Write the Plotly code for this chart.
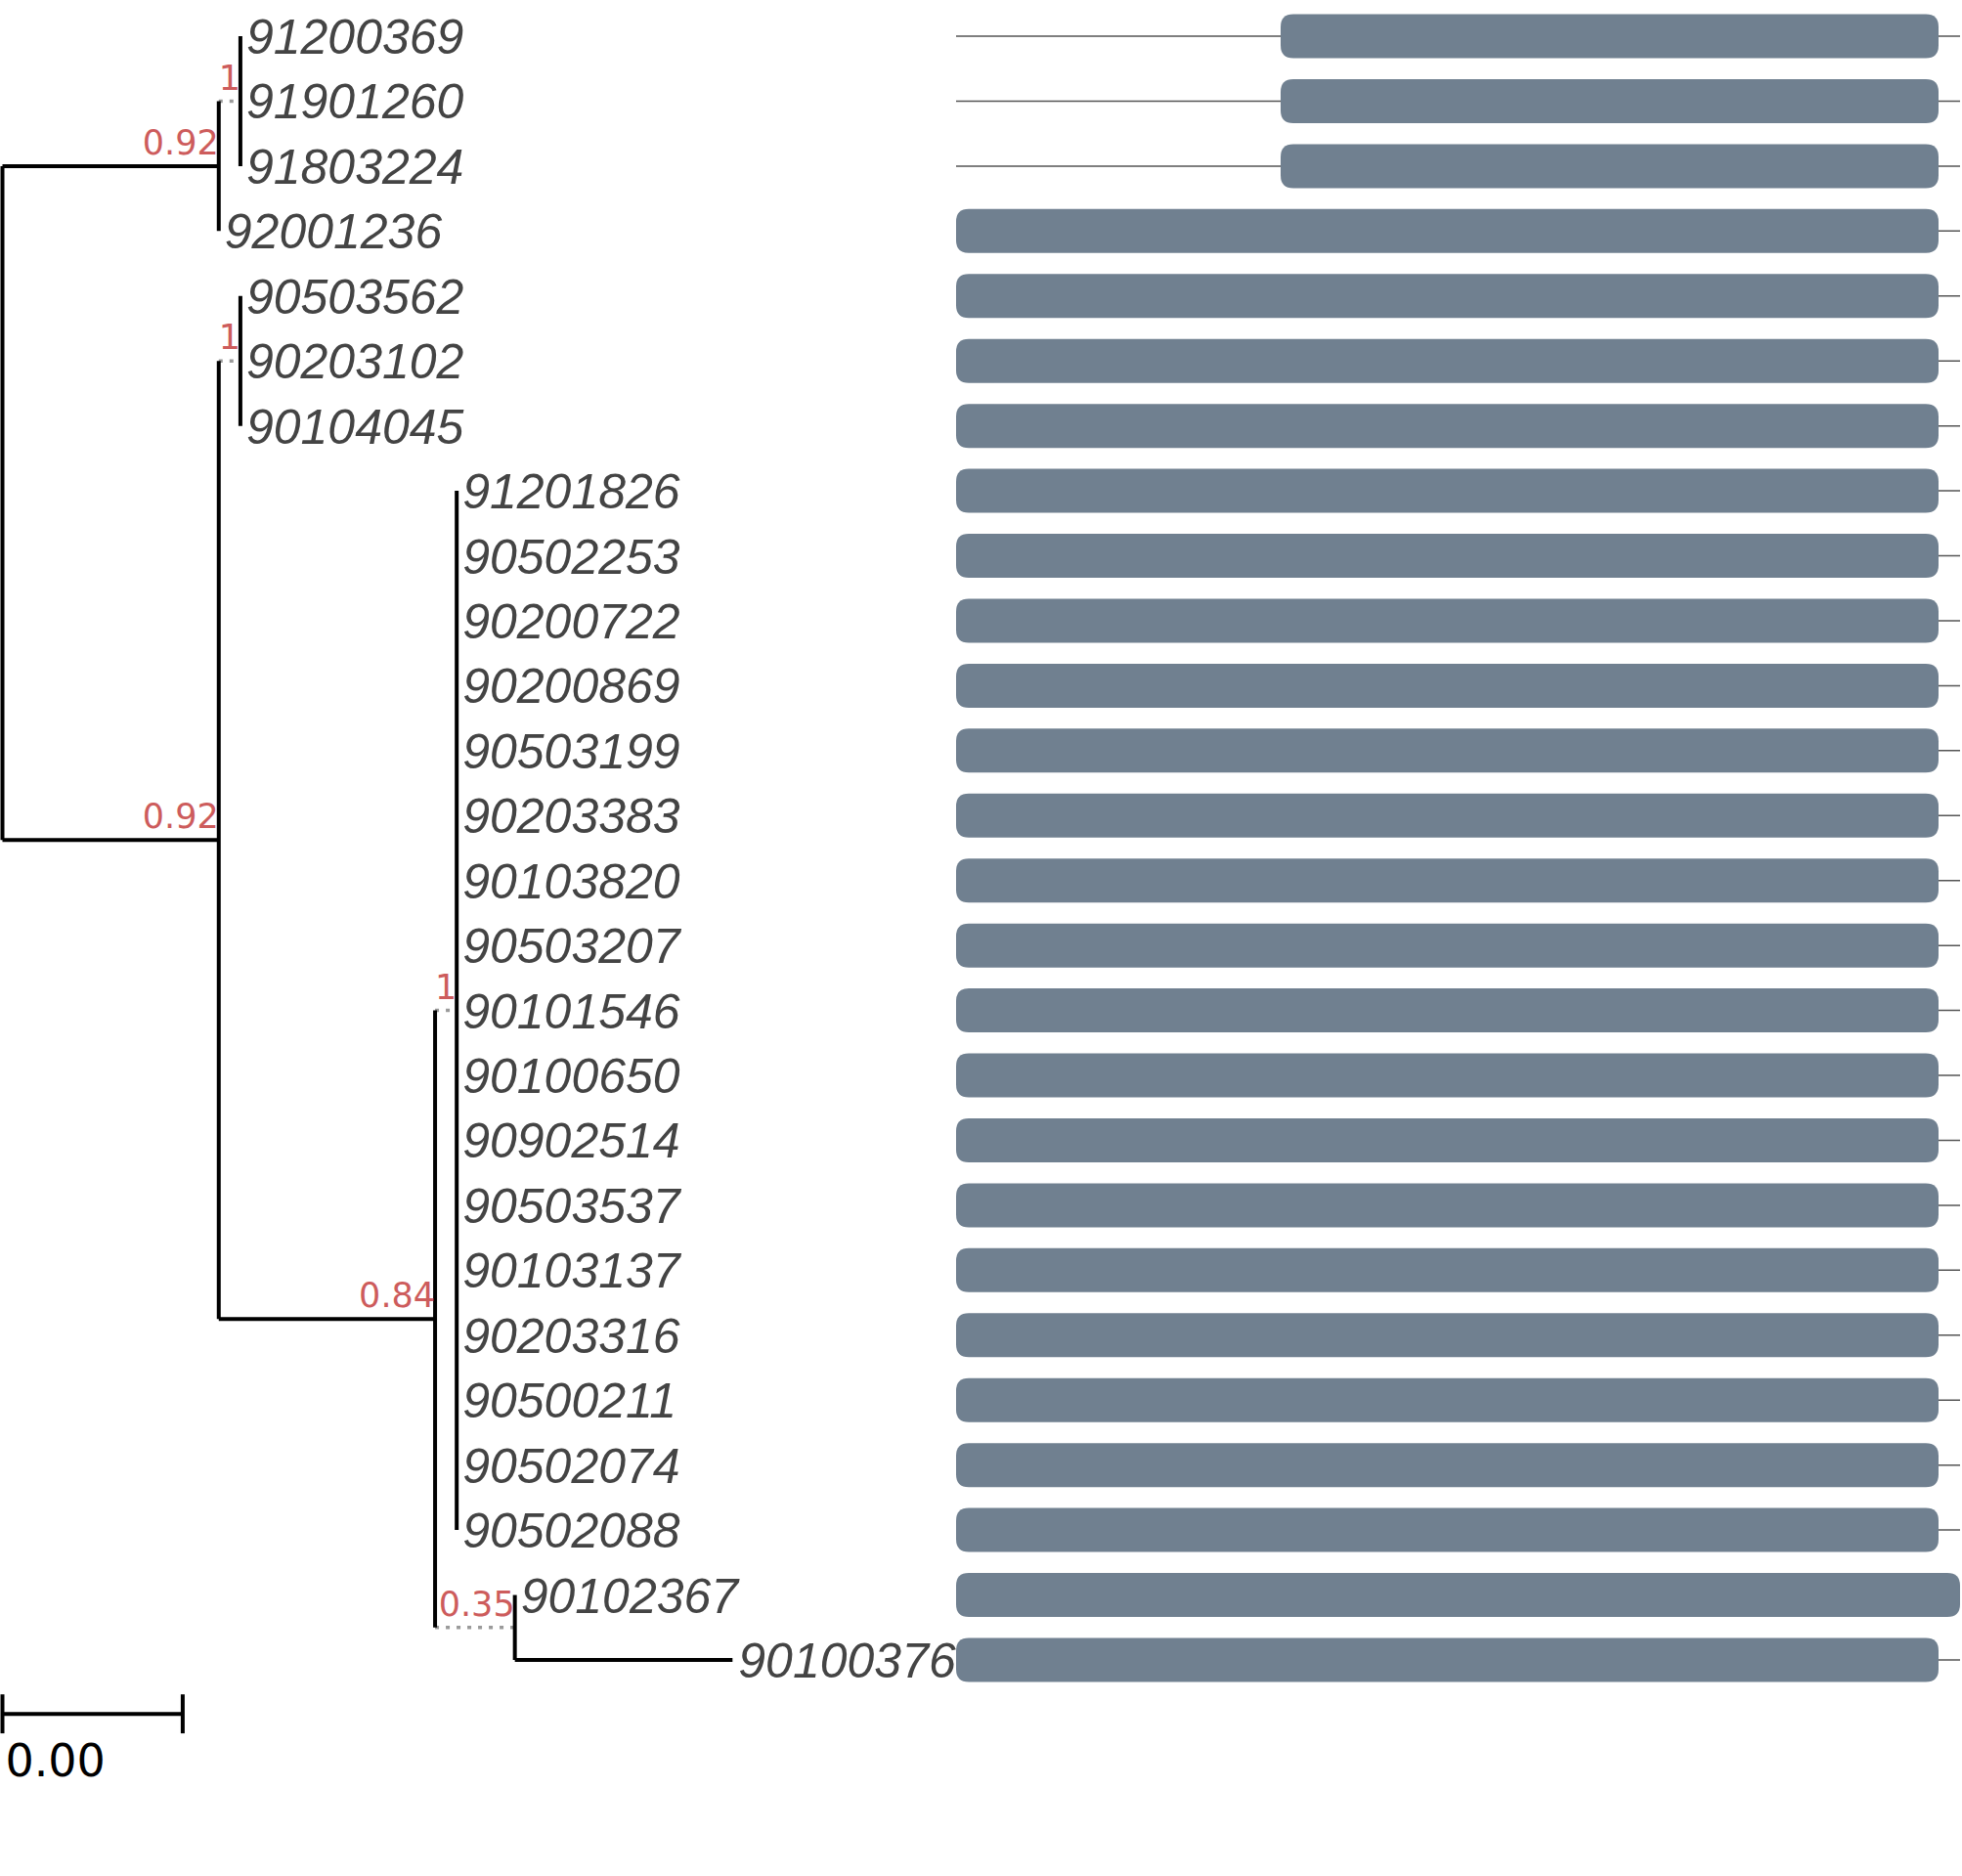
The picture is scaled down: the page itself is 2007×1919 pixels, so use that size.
import plotly.graph_objects as go

# ── Tree data ────────────────────────────────────────────────────────────────
# tips, top to bottom
TIP_NAMES = [
    "91200369", "91901260", "91803224", "92001236",
    "90503562", "90203102", "90104045",
    "91201826", "90502253", "90200722", "90200869", "90503199", "90203383",
    "90103820", "90503207", "90101546", "90100650", "90902514", "90503537",
    "90103137", "90203316", "90500211", "90502074", "90502088",
    "90102367", "90100376",
]
TIP_PARENT = ["A1"] * 3 + ["A"] + ["B1"] * 3 + ["C1"] * 17 + ["D", "D"]
TIP_LENGTH = [0.0] * 25 + [0.00483]

# internal nodes (root has no entry)
NODE_NAMES = ["A", "A1", "B", "B1", "C", "C1", "D"]
NODE_PARENT = ["root", "A", "root", "B", "B", "C", "C"]
NODE_LENGTH = [0.0048, 0.00048, 0.0048, 0.00048, 0.0048, 0.00048, 0.00177]
NODE_SUPPORT = [0.92, 1, 0.92, 1, 0.84, 1, 0.35]

SCALE_LEN = 0.004

# ── Alignment coverage per tip ───────────────────────────────────────────────
ALIGN_LEN = 1027
SEQ_START = [332, 332, 332] + [0] * 23
SEQ_END = [1005] * 24 + [1027, 1005]

# ── Styling / page geometry ──────────────────────────────────────────────────
W, H = 2007, 1919
ROW_PX = 66.44          # px between tips
TOP_PX = 37             # centre of first row
ROOT_PX = 2.5
TREE_PX = 46100         # px per branch-length unit
BAR_X0, BAR_X1 = 978, 2005
BAR_HALF = 22.5 / ROW_PX
CORNER = 13
TIP_DY = 5.5 / ROW_PX   # nudge so digits sit centred on the row
SUP_DY = -3 / ROW_PX
LW = 4

DOTTED = {"A1", "B1", "C1", "D"}
TIP_FONT = dict(family="Liberation Sans", size=50, color="#444444", style="italic")
SUP_FONT = dict(family="DejaVu Sans", size=35, color="#CD5C5C")
SCALE_FONT = dict(family="DejaVu Sans", size=46, color="black")
BAR_COLOR = "#708090"

# ── Layout of tree ───────────────────────────────────────────────────────────
parent, length = {}, {}
for n, p, l in zip(NODE_NAMES, NODE_PARENT, NODE_LENGTH):
    parent[n], length[n] = p, l
for n, p, l in zip(TIP_NAMES, TIP_PARENT, TIP_LENGTH):
    parent[n], length[n] = p, l
children = {}
for n, p in parent.items():
    children.setdefault(p, []).append(n)
row = {t: i for i, t in enumerate(TIP_NAMES)}


def depth(n):
    return 0.0 if n == "root" else depth(parent[n]) + length[n]


def ypos(n):
    if n in row:
        return row[n]
    ys = [ypos(c) for c in children[n]]
    return (min(ys) + max(ys)) / 2


solid_x, solid_y, dot_x, dot_y = [], [], [], []
for n in parent:
    if length[n] == 0:
        continue
    xs = [depth(parent[n]), depth(n), None]
    ys = [ypos(n), ypos(n), None]
    if n in DOTTED:
        dot_x += xs
        dot_y += ys
    else:
        solid_x += xs
        solid_y += ys
for n in ["root"] + NODE_NAMES:
    cy = [ypos(c) for c in children[n]]
    solid_x += [depth(n), depth(n), None]
    solid_y += [min(cy), max(cy), None]

fig = go.Figure()

# backbone lines behind the coverage bars
bx, by = [], []
for i in range(len(TIP_NAMES)):
    bx += [0, ALIGN_LEN, None]
    by += [i, i, None]
fig.add_trace(go.Scatter(x=bx, y=by, xaxis="x2", yaxis="y", mode="lines",
                         line=dict(color="#555555", width=1.5), hoverinfo="skip"))

fig.add_trace(go.Scatter(x=dot_x, y=dot_y, mode="lines",
                         line=dict(color="#9a9a9a", width=3.5, dash="4px,7px"),
                         hoverinfo="skip"))
fig.add_trace(go.Scatter(x=solid_x, y=solid_y, mode="lines",
                         line=dict(color="black", width=LW), hoverinfo="skip"))

# tip labels
fig.add_trace(go.Scatter(
    x=[depth(t) for t in TIP_NAMES], y=[row[t] + TIP_DY for t in TIP_NAMES],
    mode="markers+text", text=TIP_NAMES, textposition="middle right",
    marker=dict(size=8, color="rgba(0,0,0,0)"), textfont=TIP_FONT,
    cliponaxis=False, hoverinfo="skip",
))

# support values
fig.add_trace(go.Scatter(
    x=[depth(n) for n in NODE_NAMES], y=[ypos(n) + SUP_DY for n in NODE_NAMES],
    mode="text", text=[f"{s:g}" for s in NODE_SUPPORT], textposition="top left",
    textfont=SUP_FONT, cliponaxis=False, hoverinfo="skip",
))

# scale bar
sb_y = len(TIP_NAMES) - 1 + 0.83
tick = 0.3
fig.add_trace(go.Scatter(
    x=[0, SCALE_LEN, None, 0, 0, None, SCALE_LEN, SCALE_LEN],
    y=[sb_y, sb_y, None, sb_y - tick, sb_y + tick, None, sb_y - tick, sb_y + tick],
    mode="lines", line=dict(color="black", width=LW), hoverinfo="skip",
))
fig.add_trace(go.Scatter(
    x=[0], y=[len(TIP_NAMES) - 1 + 1.62], mode="markers+text", text=[f"{SCALE_LEN:.2f}"],
    marker=dict(size=3, color="rgba(0,0,0,0)"),
    textposition="middle right", textfont=SCALE_FONT, cliponaxis=False, hoverinfo="skip",
))

# coverage bars as rounded rectangles
bar_unit_px = (BAR_X1 - BAR_X0) / ALIGN_LEN
rx = CORNER / bar_unit_px
ry = CORNER / ROW_PX
for i, (s, e) in enumerate(zip(SEQ_START, SEQ_END)):
    y0, y1 = i - BAR_HALF, i + BAR_HALF
    path = (
        f"M {s + rx},{y0} L {e - rx},{y0} Q {e},{y0} {e},{y0 + ry} "
        f"L {e},{y1 - ry} Q {e},{y1} {e - rx},{y1} L {s + rx},{y1} "
        f"Q {s},{y1} {s},{y1 - ry} L {s},{y0 + ry} Q {s},{y0} {s + rx},{y0} Z"
    )
    fig.add_shape(type="path", path=path, xref="x2", yref="y",
                  fillcolor=BAR_COLOR, line=dict(width=0), layer="above")

hidden = dict(visible=False, showgrid=False, zeroline=False, fixedrange=True)
fig.update_layout(
    width=W, height=H, autosize=False,
    margin=dict(l=0, r=0, t=0, b=0, pad=0),
    paper_bgcolor="white", plot_bgcolor="rgba(0,0,0,0)",
    showlegend=False,
    xaxis=dict(domain=[0, 1], range=[-ROOT_PX / TREE_PX, (W - ROOT_PX) / TREE_PX], **hidden),
    xaxis2=dict(domain=[BAR_X0 / W, BAR_X1 / W], range=[0, ALIGN_LEN], anchor="y", **hidden),
    yaxis=dict(range=[(H - TOP_PX) / ROW_PX, -TOP_PX / ROW_PX], **hidden),
)

fig.write_html("out.html", config=dict(displayModeBar=False),
               post_script="document.body.style.margin = '0';")
